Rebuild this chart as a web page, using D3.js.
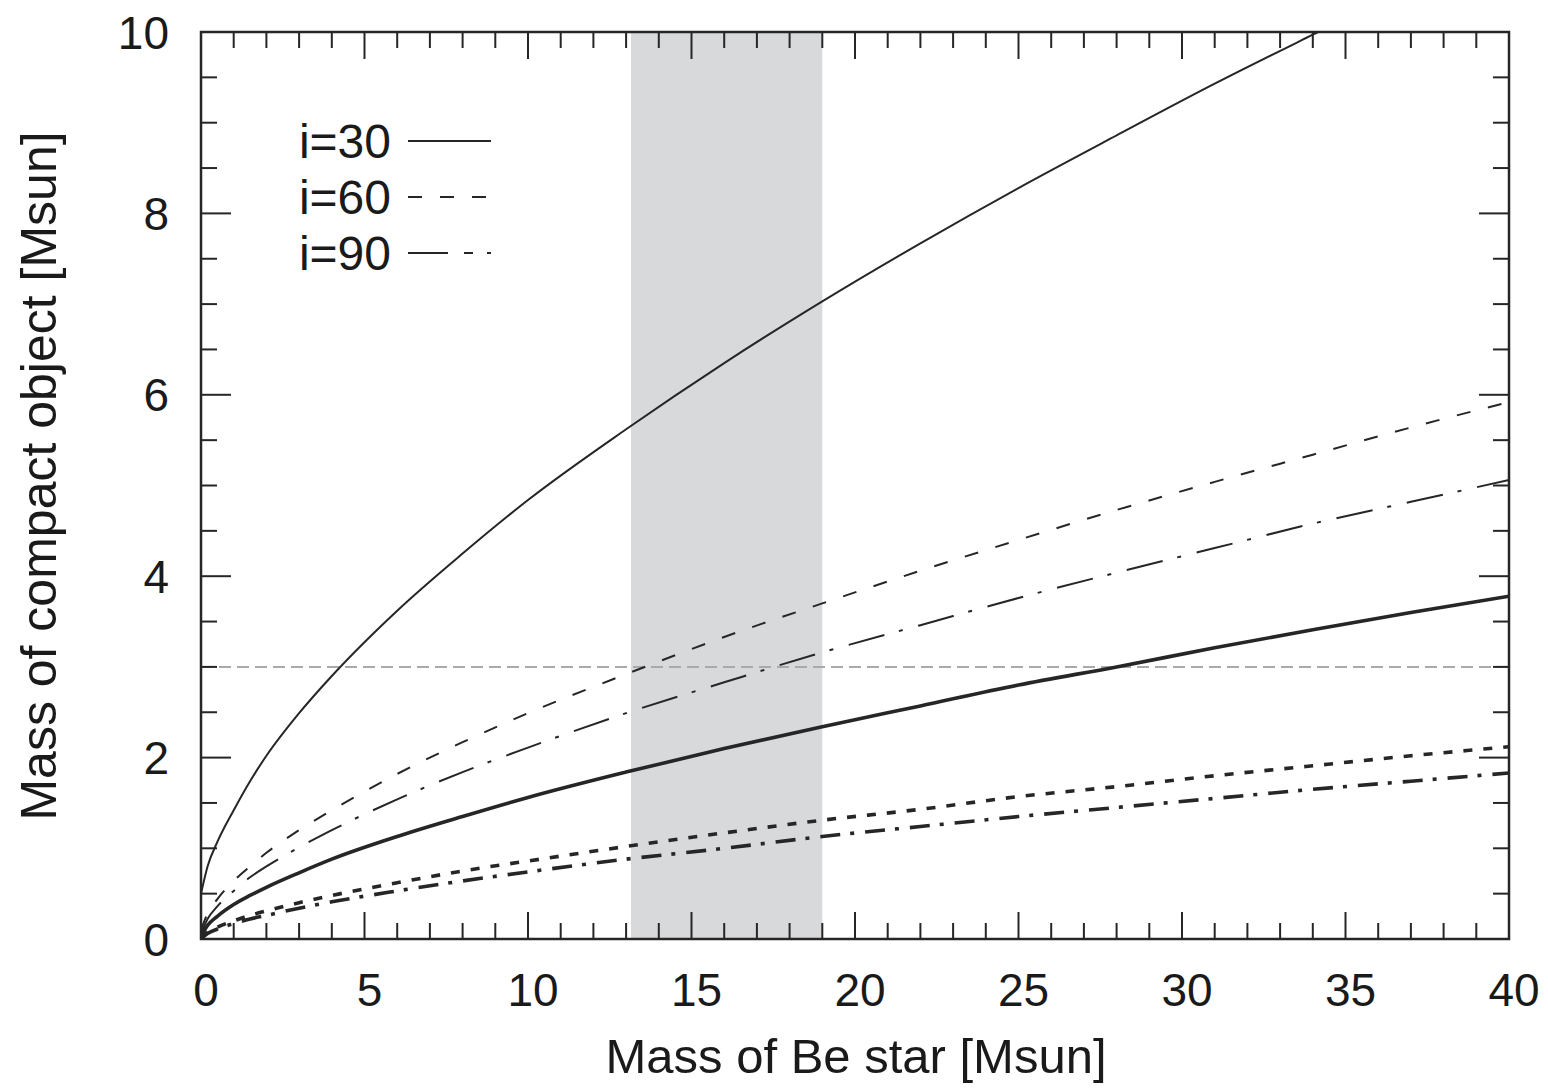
<!DOCTYPE html>
<html>
<head>
<meta charset="utf-8">
<script src="https://cdn.jsdelivr.net/npm/d3@7"></script>
<style>
    body { margin: 0; background: #fff; }
    text { font-family: "Liberation Sans", Arial, sans-serif; fill: #1a1a1a; }
</style>
</head>
<body>
<svg id="chart" width="1548" height="1089"></svg>
<script>
'use strict';

var massBe = [0, 0.2, 0.5, 1, 1.5, 2, 3, 4, 6, 8, 10, 13, 16, 19, 22, 25, 28, 31, 34, 37, 40];

// upper (thin) family
var thinI30 = [0.5, 0.8, 1.07, 1.42, 1.74, 2.02, 2.49, 2.9, 3.62, 4.25, 4.84, 5.62, 6.35, 7.03, 7.67, 8.28, 8.86, 9.43, 9.97, 10.5, 11.0];
var thinI60 = [0.10, 0.28, 0.44, 0.64, 0.8, 0.95, 1.2, 1.42, 1.82, 2.17, 2.49, 2.92, 3.33, 3.7, 4.06, 4.4, 4.73, 5.04, 5.34, 5.64, 5.92];
var thinI90 = [0.06, 0.22, 0.36, 0.53, 0.68, 0.8, 1.01, 1.2, 1.54, 1.84, 2.11, 2.49, 2.83, 3.16, 3.46, 3.76, 4.04, 4.31, 4.58, 4.82, 5.06];

// lower (thick) family
var thickI30 = [0.03, 0.15, 0.25, 0.38, 0.48, 0.57, 0.73, 0.88, 1.13, 1.35, 1.56, 1.84, 2.1, 2.34, 2.57, 2.8, 3.0, 3.21, 3.41, 3.6, 3.78];
var thickI60 = [0.01, 0.075, 0.13, 0.2, 0.26, 0.31, 0.4, 0.48, 0.62, 0.75, 0.86, 1.02, 1.17, 1.31, 1.43, 1.57, 1.68, 1.8, 1.91, 2.02, 2.12];
var thickI90 = [0, 0.06, 0.11, 0.17, 0.22, 0.26, 0.34, 0.41, 0.53, 0.64, 0.74, 0.88, 1.0, 1.13, 1.24, 1.35, 1.45, 1.55, 1.65, 1.74, 1.83];

var bandRange = [13.15, 19];   // shaded Be star mass range
var limitMass = 3;             // horizontal reference line

var xTicks = [0, 5, 10, 15, 20, 25, 30, 35, 40];
var yTicks = [0, 2, 4, 6, 8, 10];
var legendLabels = ['i=30', 'i=60', 'i=90'];

var margin = {top: 32, right: 39, bottom: 150, left: 201};
var width = 1548 - margin.left - margin.right;
var height = 1089 - margin.top - margin.bottom;

var svg = d3.select('#chart');
var g = svg.append('g').attr('transform', 'translate(' + margin.left + ',' + margin.top + ')');

var x = d3.scaleLinear().domain([0, 40]).range([0, width]);
var y = d3.scaleLinear().domain([0, 10]).range([height, 0]);

var ink = '#262626';
var dashThin = '14,18';
var dashDotThin = '37,15,4,16';
var dashThick = '9,11';
var dashDotThick = '20,10,4,11';

svg.append('defs').append('clipPath').attr('id', 'plotClip')
    .append('rect').attr('width', width).attr('height', height);

// shaded band
g.append('rect')
    .attr('x', x(bandRange[0]))
    .attr('y', 0)
    .attr('width', x(bandRange[1]) - x(bandRange[0]))
    .attr('height', height)
    .attr('fill', '#d8d9db');

// 3 Msun reference line
g.append('line')
    .attr('x1', 0).attr('x2', width)
    .attr('y1', y(limitMass)).attr('y2', y(limitMass))
    .attr('stroke', '#a9a9a9')
    .attr('stroke-width', 2)
    .attr('stroke-dasharray', '12,6');

var curves = [
    {values: thinI30, width: 2, dash: null},
    {values: thinI60, width: 2, dash: dashThin},
    {values: thinI90, width: 2, dash: dashDotThin},
    {values: thickI30, width: 3.6, dash: null},
    {values: thickI60, width: 3.6, dash: dashThick},
    {values: thickI90, width: 3.6, dash: dashDotThick}
];

var line = d3.line()
    .x(function(d) { return x(d[0]); })
    .y(function(d) { return y(d[1]); })
    .curve(d3.curveMonotoneX);

var curveG = g.append('g').attr('clip-path', 'url(#plotClip)');
curves.forEach(function(c) {
    var pts = massBe.map(function(m, i) { return [m, c.values[i]]; });
    curveG.append('path')
        .attr('d', line(pts))
        .attr('fill', 'none')
        .attr('stroke', ink)
        .attr('stroke-width', c.width)
        .attr('stroke-dasharray', c.dash);
});

// ticks on all four sides, pointing inward
function drawTicks(axis, values, len) {
    var sel = g.append('g').attr('stroke', ink).attr('stroke-width', 2);
    values.forEach(function(v) {
        if (axis === 'x') {
            sel.append('line').attr('x1', x(v)).attr('x2', x(v)).attr('y1', height).attr('y2', height - len);
            sel.append('line').attr('x1', x(v)).attr('x2', x(v)).attr('y1', 0).attr('y2', len);
        } else {
            sel.append('line').attr('y1', y(v)).attr('y2', y(v)).attr('x1', 0).attr('x2', len);
            sel.append('line').attr('y1', y(v)).attr('y2', y(v)).attr('x1', width).attr('x2', width - len);
        }
    });
}
drawTicks('x', d3.range(0, 41, 1).filter(function(v) { return v % 5 !== 0; }), 16);
drawTicks('x', xTicks, 27);
drawTicks('y', d3.range(0, 10.01, 0.5).filter(function(v) { return v % 2 !== 0; }), 16);
drawTicks('y', yTicks, 30);

// frame
g.append('rect')
    .attr('width', width).attr('height', height)
    .attr('fill', 'none').attr('stroke', ink).attr('stroke-width', 2.5);

// tick labels
g.append('g').selectAll('text').data(xTicks).enter().append('text')
    .attr('x', function(d) { return x(d) + 5; })
    .attr('y', height + 67)
    .attr('text-anchor', 'middle')
    .style('font-size', '46px')
    .text(function(d) { return d; });

g.append('g').selectAll('text').data(yTicks).enter().append('text')
    .attr('x', -32)
    .attr('y', function(d) { return y(d); })
    .attr('dy', '0.36em')
    .attr('text-anchor', 'end')
    .style('font-size', '46px')
    .text(function(d) { return d; });

// axis titles
g.append('text')
    .attr('x', width / 2 + 1)
    .attr('y', height + 134)
    .attr('text-anchor', 'middle')
    .style('font-size', '49px')
    .text('Mass of Be star [Msun]');

g.append('text')
    .attr('transform', 'translate(' + (-145) + ',' + 444 + ') rotate(-90)')
    .attr('text-anchor', 'middle')
    .style('font-size', '50px')
    .text('Mass of compact object [Msun]');

// legend
var legendDash = [null, dashThin, '40,16,9,14,9'];
var legend = g.append('g');
legendLabels.forEach(function(lbl, i) {
    var ly = 109 + i * 56;
    legend.append('text')
        .attr('x', 190)
        .attr('y', ly)
        .attr('dy', '0.36em')
        .attr('text-anchor', 'end')
        .style('font-size', '48px')
        .text(lbl);
    legend.append('line')
        .attr('x1', 207).attr('x2', 290)
        .attr('y1', ly).attr('y2', ly)
        .attr('stroke', ink)
        .attr('stroke-width', 2)
        .attr('stroke-dasharray', legendDash[i]);
});
</script>
</body>
</html>
